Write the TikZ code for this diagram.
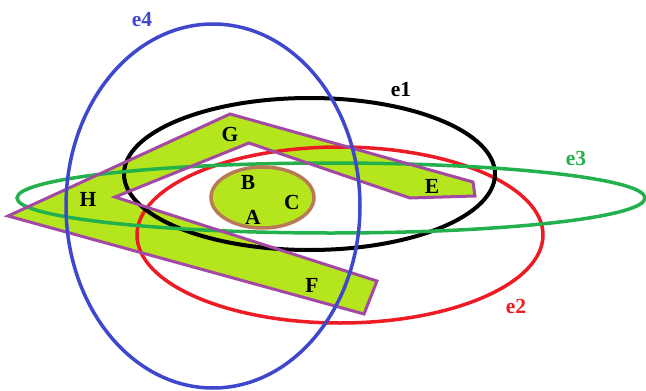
\documentclass[tikz,border=0pt]{standalone}
\usepackage{fontspec}
\setmainfont{Liberation Serif}
\definecolor{lime}{HTML}{B5E61D}
\definecolor{purp}{HTML}{A349A4}
\definecolor{brownc}{HTML}{B97A57}
\definecolor{redc}{HTML}{ED1C24}
\definecolor{greenc}{HTML}{22B14C}
\definecolor{bluec}{HTML}{3F48CC}
\tikzset{
  pt/.style={font=\bfseries\fontsize{21.5}{21.5}\selectfont, inner sep=0pt},
  elab/.style={font=\bfseries\fontsize{21.5}{21.5}\selectfont, inner sep=0pt},
}
\begin{document}
\begin{tikzpicture}[x=1pt,y=-1pt]
\useasboundingbox (0,0) rectangle (646,391);
% lime region
\fill[lime] (8,216) -- (230,114) -- (473,182) -- (475,196) -- (410,198) -- (249,143) -- (115,197) -- (377,281) -- (364,314) -- cycle;
% ellipses
\draw[redc, line width=3.5pt] (340,235) ellipse [x radius=203, y radius=88];
\draw[black, line width=4pt] (309.5,174) ellipse [x radius=185.5, y radius=76];
\draw[greenc, line width=3.5pt] (331,198) ellipse [x radius=314, y radius=35];
\draw[purp, line width=3pt, line join=miter] (8,216) -- (230,114) -- (473,182) -- (475,196) -- (410,198) -- (249,143) -- (115,197) -- (377,281) -- (364,314) -- cycle;
\draw[brownc, fill=lime, line width=3.5pt] (262.5,197.5) ellipse [x radius=51.5, y radius=30.5];
\draw[bluec, line width=3.5pt] (213,206) ellipse [x radius=147, y radius=182];
% letters
\node[pt] (G) at (230,134) {G};
\node[pt] (H) at (88,199) {H};
\node[pt] (B) at (248,182) {B};
\node[pt] (C) at (292,202) {C};
\node[pt] (A) at (253,217) {A};
\node[pt] (E) at (432,186) {E};
\node[pt] (F) at (312,285) {F};
% set labels
\node[elab, text=bluec] (e4) at (142,20) {e4};
\node[elab, text=black] (e1) at (401,90) {e1};
\node[elab, text=greenc] (e3) at (576,158) {e3};
\node[elab, text=redc] (e2) at (516,306) {e2};
\end{tikzpicture}
\end{document}
